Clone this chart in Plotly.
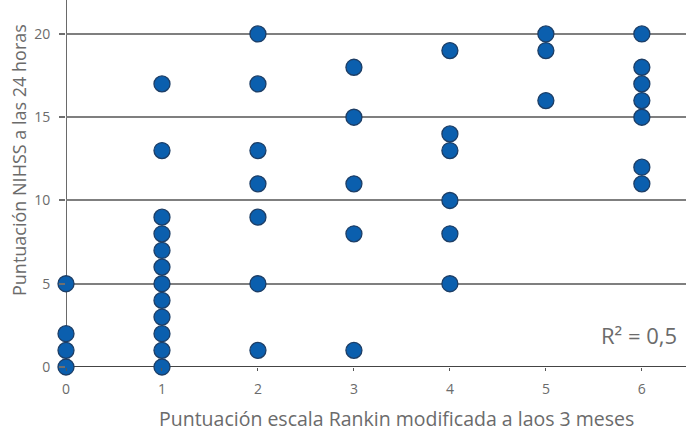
import plotly.graph_objects as go

rankin_0 = [0, 1, 2, 5]
rankin_1 = [0, 1, 2, 3, 4, 5, 6, 7, 8, 9, 13, 17]
rankin_2 = [1, 5, 9, 11, 13, 17, 20]
rankin_3 = [1, 8, 11, 15, 18]
rankin_4 = [5, 8, 10, 13, 14, 19]
rankin_5 = [16, 19, 20]
rankin_6 = [11, 12, 15, 16, 17, 18, 20]

groups = [rankin_0, rankin_1, rankin_2, rankin_3, rankin_4, rankin_5, rankin_6]
x_vals = []
y_vals = []
for i, g in enumerate(groups):
    for v in g:
        x_vals.append(i)
        y_vals.append(v)

x_ticks = [0, 1, 2, 3, 4, 5, 6]
y_ticks = [0, 5, 10, 15, 20]

font_family = "Open Sans, DejaVu Sans, sans-serif"
grey = "#6b6b6b"

fig = go.Figure()
fig.add_trace(go.Scatter(
    x=x_vals, y=y_vals, mode="markers",
    marker=dict(size=16, color="#0b5fae", line=dict(color="#1d3e66", width=1.3)),
    cliponaxis=False, showlegend=False,
))

fig.update_layout(
    width=686, height=441,
    margin=dict(l=66, r=0, t=0, b=74),
    paper_bgcolor="white", plot_bgcolor="white",
    xaxis=dict(range=[0, 6.46], tickvals=x_ticks, ticktext=[str(t) for t in x_ticks],
               showgrid=False, zeroline=False, showline=False,
               tickfont=dict(family=font_family, size=14, color=grey),
               ticks="outside", ticklen=3, tickcolor="#555555", tickwidth=1,
               ticklabelstandoff=6),
    yaxis=dict(range=[0, 22.04], tickvals=y_ticks, ticktext=[str(t) for t in y_ticks],
               showgrid=True, gridcolor="#7f7f7f", gridwidth=1.8, zeroline=False,
               showline=False,
               tickfont=dict(family=font_family, size=14, color=grey),
               ticks="outside", ticklen=6, tickcolor="#6f6f6f", tickwidth=1.8,
               ticklabelstandoff=6),
    shapes=[
        dict(type="line", xref="x", yref="paper", x0=0, x1=0, y0=0, y1=1,
             line=dict(color="#444444", width=1.6), layer="below"),
        dict(type="line", xref="paper", yref="y", x0=0, x1=1, y0=0, y1=0,
             line=dict(color="#444444", width=1.8), layer="below"),
    ],
    annotations=[
        dict(text="Puntuación escala Rankin modificada a laos 3 meses", xref="paper", yref="paper",
             x=(396 - 66) / 620, y=-(418 - 367) / 367, xanchor="center", yanchor="middle",
             showarrow=False, font=dict(family=font_family, size=19.5, color=grey)),
        dict(text="Puntuación NIHSS a las 24 horas", xref="paper", yref="paper",
             x=-(66 - 19) / 620, y=(367 - 160) / 367, xanchor="center", yanchor="middle",
             textangle=-90,
             showarrow=False, font=dict(family=font_family, size=18, color=grey)),
        dict(text="R² = 0,5", xref="paper", yref="y", x=(679 - 66) / 620, y=(367 - 335) / 16.65,
             xanchor="right", yanchor="middle",
             showarrow=False, font=dict(family=font_family, size=22, color=grey)),
    ],
)

fig.write_html("out.html")
